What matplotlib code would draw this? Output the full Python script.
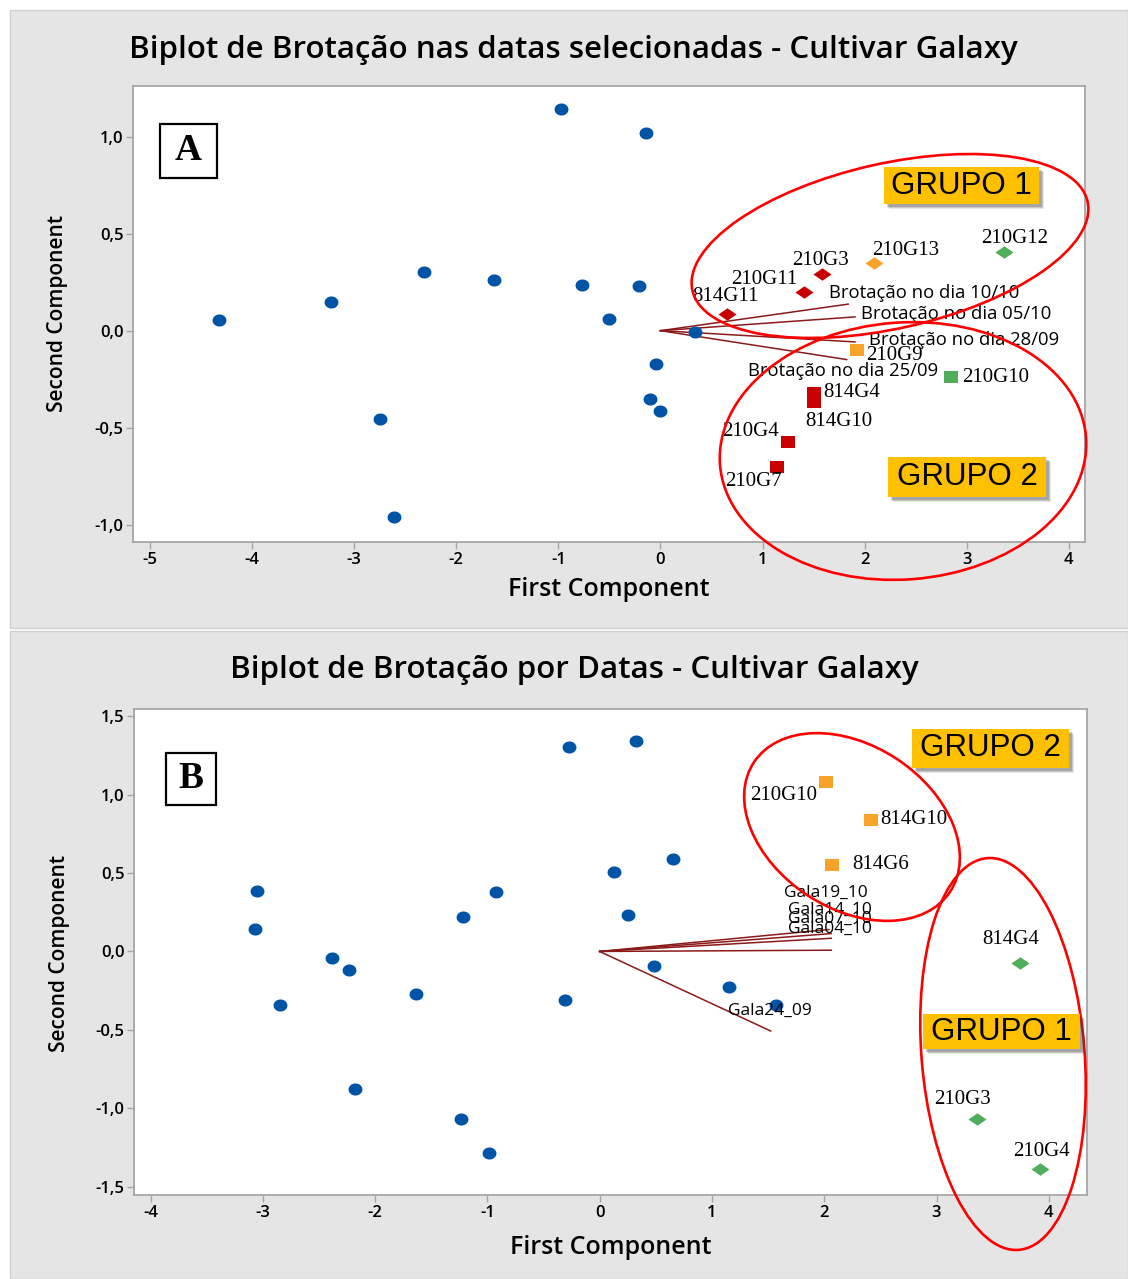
import matplotlib
matplotlib.use("Agg")
import matplotlib.pyplot as plt
from matplotlib.patches import Ellipse, Rectangle
from matplotlib.ticker import FuncFormatter
from matplotlib.path import Path
import numpy as np

plt.rcParams['font.family'] = ['Open Sans', 'DejaVu Sans']
plt.rcParams['axes.unicode_minus'] = False

W, H = 1128, 1279

# ---------------- panel A data ----------------
a_obs_x = [-0.97, -0.14, -2.32, -1.63, -0.77, -0.21, -3.23, -4.32, -0.50, 0.34, -0.04, -0.10, 0.00, -2.745, -2.61]
a_obs_y = [1.143, 1.019, 0.304, 0.261, 0.237, 0.229, 0.146, 0.055, 0.062, -0.006, -0.17, -0.354, -0.412, -0.454, -0.96]

a_red_d_names = ["814G11", "210G11", "210G3"]
a_red_d_x = [0.654, 1.408, 1.579]
a_red_d_y = [0.084, 0.200, 0.292]
a_red_s_names = ["814G4", "814G10", "210G4", "210G7"]
a_red_s_x = [1.503, 1.503, 1.252, 1.138]
a_red_s_y = [-0.322, -0.369, -0.574, -0.701]
a_org_d_names = ["210G13"]
a_org_d_x = [2.094]
a_org_d_y = [0.350]
a_org_s_names = ["210G9"]
a_org_s_x = [1.922]
a_org_s_y = [-0.101]
a_grn_d_names = ["210G12"]
a_grn_d_x = [3.367]
a_grn_d_y = [0.407]
a_grn_s_names = ["210G10"]
a_grn_s_x = [2.845]
a_grn_s_y = [-0.240]

a_vec_names = ["Brotação no dia 10/10", "Brotação no dia 05/10", "Brotação no dia 28/09", "Brotação no dia 25/09"]
a_vec_x = [1.839, 1.905, 1.905, 1.824]
a_vec_y = [0.137, 0.071, -0.058, -0.149]

# ---------------- panel B data ----------------
b_obs_x = [-0.273, 0.324, 0.652, 0.130, -3.053, -0.919, -1.215, 0.255, -3.072, -2.388,
           -2.23, 0.480, -2.843, -1.635, -0.308, -2.178, -1.234, -0.989, 1.149, 1.567]
b_obs_y = [1.302, 1.344, 0.586, 0.509, 0.386, 0.377, 0.222, 0.233, 0.144, -0.043,
           -0.117, -0.095, -0.339, -0.272, -0.307, -0.876, -1.065, -1.286, -0.228, -0.340]

b_org_s_names = ["210G10", "814G10", "814G6"]
b_org_s_x = [2.012, 2.413, 2.066]
b_org_s_y = [1.077, 0.837, 0.551]
b_grn_d_names = ["814G4", "210G3", "210G4"]
b_grn_d_x = [3.746, 3.360, 3.921]
b_grn_d_y = [-0.071, -1.070, -1.389]

b_vec_names = ["Gala19_10", "Gala14_10", "Gala07_10", "Gala04_10", "Gala24_09"]
b_vec_x = [2.042, 2.063, 2.063, 2.063, 1.523]
b_vec_y = [0.140, 0.114, 0.084, 0.008, -0.507]

# label offsets in pixels (dx right, dy up) from the marker / vector tip
a_lab_off = {"814G11": (-35, 18), "210G11": (-73, 12), "210G3": (-30, 14), "210G13": (-2, 12),
             "210G12": (-23, 13), "210G9": (9, -5), "210G10": (11, 0), "814G4": (9, 1),
             "814G10": (-9, -19), "210G4": (-66, 10), "210G7": (-52, -15)}
a_vec_off = [(-19, 11), (6, 3), (14, 2), (-99, -11)]
b_lab_off = {"210G10": (-75, -13), "814G10": (10, 1), "814G6": (21, 0),
             "814G4": (-38, 23), "210G3": (-43, 20), "210G4": (-27, 18)}
b_vec_off = [(-45, 37), (-43, 24), (-43, 19), (-43, 21), (-43, 20)]

BLUE = '#0054a6'
RED = '#c80000'
ORANGE = '#f7a229'
GREEN = '#4fad5b'
VEC = '#8b1a1a'

t = np.linspace(0, 2 * np.pi, 41)
dot = Path(np.column_stack([1.15 * np.cos(t), np.sin(t)]))
diamond = Path([(-1.45, 0), (0, 1), (1.45, 0), (0, -1), (-1.45, 0)], closed=True)
square = Path([(-1.1, -1), (1.1, -1), (1.1, 1), (-1.1, 1), (-1.1, -1)], closed=True)

fig = plt.figure(figsize=(W / 100, H / 100), dpi=100)


def frac(x0, y0, x1, y1):
    return [x0 / W, 1 - y1 / H, (x1 - x0) / W, (y1 - y0) / H]


for x0, y0, x1, y1 in [(10, 10, 1128, 628), (10, 631, 1128, 1279)]:
    fig.add_artist(Rectangle((x0 / W, 1 - y1 / H), (x1 - x0) / W, (y1 - y0) / H,
                             transform=fig.transFigure, facecolor='#e5e5e5',
                             edgecolor='#d0d0d0', lw=1, zorder=-5))

axA = fig.add_axes(frac(133, 86, 1085, 542))
axB = fig.add_axes(frac(134, 709, 1087, 1195))


def style_axes(ax, xlim, ylim, xticks, yticks):
    ax.set_xlim(*xlim)
    ax.set_ylim(*ylim)
    ax.set_xticks(xticks)
    ax.set_yticks(yticks)
    ax.xaxis.set_major_formatter(FuncFormatter(lambda v, p: f"{v:.0f}"))
    ax.yaxis.set_major_formatter(FuncFormatter(lambda v, p: f"{v:.1f}".replace(".", ",")))
    for s in ax.spines.values():
        s.set_color('#a6a6a6')
        s.set_linewidth(1.3)
    ax.tick_params(direction='out', length=5, width=1, color='#a6a6a6', labelsize=12, pad=2)
    for lab in ax.get_xticklabels() + ax.get_yticklabels():
        lab.set_fontweight('semibold')


style_axes(axA, (-5.166, 4.158), (-1.09, 1.262), range(-5, 5), [-1, -0.5, 0, 0.5, 1])
style_axes(axB, (-4.147, 4.34), (-1.552, 1.545), range(-4, 5), [-1.5, -1, -0.5, 0, 0.5, 1, 1.5])


def draw_group(ax, names, xs, ys, marker, ms, color, offsets):
    ax.plot(xs, ys, linestyle='none', marker=marker, ms=ms, color=color, mew=0, zorder=4)
    for n, x, y in zip(names, xs, ys):
        ax.annotate(n, (x, y), xytext=offsets[n], textcoords='offset pixels',
                    ha='left', va='center', fontsize=15, family='Liberation Serif', zorder=5)


def draw_vectors(ax, names, xs, ys, offsets, size):
    for n, x, y, off in zip(names, xs, ys, offsets):
        ax.plot([0, x], [0, y], color=VEC, lw=1.1, zorder=3)
        ax.annotate(n, (x, y), xytext=off, textcoords='offset pixels',
                    ha='left', va='center', fontsize=size, zorder=5)


# panel A
axA.plot(a_obs_x, a_obs_y, linestyle='none', marker=dot, ms=10, color=BLUE, mew=0, zorder=4)
draw_vectors(axA, a_vec_names, a_vec_x, a_vec_y, a_vec_off, 13.3)
draw_group(axA, a_red_d_names, a_red_d_x, a_red_d_y, diamond, 13, RED, a_lab_off)
draw_group(axA, a_red_s_names, a_red_s_x, a_red_s_y, square, 10, RED, a_lab_off)
draw_group(axA, a_org_d_names, a_org_d_x, a_org_d_y, diamond, 13, ORANGE, a_lab_off)
draw_group(axA, a_org_s_names, a_org_s_x, a_org_s_y, square, 10, ORANGE, a_lab_off)
draw_group(axA, a_grn_d_names, a_grn_d_x, a_grn_d_y, diamond, 13, GREEN, a_lab_off)
draw_group(axA, a_grn_s_names, a_grn_s_x, a_grn_s_y, square, 10, GREEN, a_lab_off)

# panel B
axB.plot(b_obs_x, b_obs_y, linestyle='none', marker=dot, ms=10, color=BLUE, mew=0, zorder=4)
draw_vectors(axB, b_vec_names, b_vec_x, b_vec_y, b_vec_off, 12.5)
draw_group(axB, b_org_s_names, b_org_s_x, b_org_s_y, square, 10, ORANGE, b_lab_off)
draw_group(axB, b_grn_d_names, b_grn_d_x, b_grn_d_y, diamond, 13, GREEN, b_lab_off)

# overlay in pixel coordinates (y up) for titles, ellipses and tags
ov = fig.add_axes([0, 0, 1, 1])
ov.set_xlim(0, W)
ov.set_ylim(0, H)
ov.axis('off')
ov.set_zorder(10)
ov.patch.set_alpha(0)

ov.text(573, H - 50, "Biplot de Brotação nas datas selecionadas - Cultivar Galaxy",
        ha='center', va='center', fontsize=22.5, fontweight='semibold')
ov.text(574.5, H - 670, "Biplot de Brotação por Datas - Cultivar Galaxy",
        ha='center', va='center', fontsize=22.5, fontweight='semibold')
for x, y in [(609, 590), (611, 1247)]:
    ov.text(x, H - y, "First Component", ha='center', va='center', fontsize=18, fontweight='semibold')
for x, y in [(58, 313), (60, 953)]:
    ov.text(x, H - y, "Second Component", ha='center', va='center', fontsize=15,
            fontweight='semibold', rotation=90)

for cx, cy, w, h, ang in [(890, 246, 405, 165, 12.7), (903, 451, 367, 257, 4.3),
                          (852, 827, 235, 163, -33.4), (1003, 1054, 163, 393, 4.6)]:
    ov.add_patch(Ellipse((cx, H - cy), w, h, angle=ang, fill=False, edgecolor='#ff0000', lw=1.9))

for x0, y0, x1, y1, txt in [(884, 167, 1039, 204, "GRUPO 1"), (888, 457, 1046, 497, "GRUPO 2"),
                            (912, 729, 1069, 768, "GRUPO 2"), (923, 1014, 1080, 1049, "GRUPO 1")]:
    for k, a in [(5, 0.12), (4, 0.18), (3, 0.25)]:
        ov.add_patch(Rectangle((x0 + k, H - y1 - k), x1 - x0, y1 - y0, facecolor='#404040',
                               edgecolor='none', alpha=a))
    ov.add_patch(Rectangle((x0, H - y1), x1 - x0, y1 - y0, facecolor='#ffc000', edgecolor='none'))
    ov.text((x0 + x1) / 2, H - (y0 + y1) / 2, txt, ha='center', va='center', fontsize=22.5,
            family='Liberation Sans')

for x0, y0, x1, y1, txt in [(160, 124, 217, 178, "A"), (166, 753, 216, 805, "B")]:
    ov.add_patch(Rectangle((x0, H - y1), x1 - x0, y1 - y0, facecolor='white', edgecolor='black', lw=1.6))
    ov.text((x0 + x1) / 2, H - (y0 + y1) / 2, txt, ha='center', va='center', fontsize=27,
            family='Liberation Serif', fontweight='bold')

fig.savefig("out.png", dpi=100)
